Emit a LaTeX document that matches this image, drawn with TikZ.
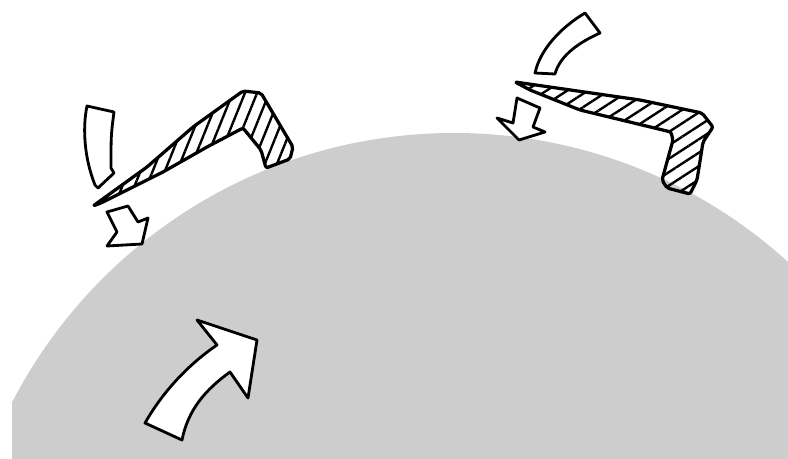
\documentclass[tikz,border=0pt]{standalone}
\usetikzlibrary{patterns.meta}

\definecolor{diskgrey}{HTML}{CDCDCD}

\tikzset{
  blade/.style={draw=black,line width=2.3pt,line join=round,rounded corners=1.5pt},
  hatchA/.style={pattern={Lines[angle=68,distance=8pt,line width=1.7pt]}},
  hatchB/.style={pattern={Lines[angle=33,distance=8pt,line width=1.7pt]}},
  flowarrow/.style={draw=black,fill=white,line width=2pt,line join=round}
}

\begin{document}
\begin{tikzpicture}[x=0.025cm,y=-0.025cm]
                \useasboundingbox (0,0) rectangle (788,459);

                % the big grey body, cut off at the left and bottom
                \begin{scope}
                    \clip (12,0) rectangle (788,459);
                    \fill[diskgrey] (454,630) circle [radius=497];
                \end{scope}

                % left blade
                \fill[hatchA] (93,206) -- (147,167) -- (193,127) -- (243,91) -- (261,93)
                    -- (293,147) -- (290,159) -- (266,168) -- (261,150) -- (243,128) -- (207,147)
                    -- (163,172) -- (101,203) -- cycle;
                \draw[blade] (93,206) -- (147,167) -- (193,127) -- (243,91) -- (261,93)
                    -- (293,147) -- (290,159) -- (266,168) -- (261,150) -- (243,128) -- (207,147)
                    -- (163,172) -- (101,203) -- cycle;

                % right blade
                \fill[hatchB] (515,82) -- (640,100) -- (702,113) -- (713,127) -- (703,142) -- (697,180)
                    -- (690,194) -- (667,188) -- (662,180) -- (673,140) -- (671,132)
                    -- (580,110) -- (530,90) -- cycle;
                \draw[blade] (515,82) -- (640,100) -- (702,113) -- (713,127) -- (703,142) -- (697,180)
                    -- (690,194) -- (667,188) -- (662,180) -- (673,140) -- (671,132)
                    -- (580,110) -- (530,90) -- cycle;

                % bands coming down onto the blades
                \draw[flowarrow] (87,106) -- (114,112) .. controls (111,135) .. (111,168) -- (114,173)
                    -- (98,188) -- (95,185) .. controls (85,160) and (82,130) .. (87,106) -- cycle;
                \draw[flowarrow] (585,13) -- (600,33) .. controls (580,42) and (560,55) .. (555,74)
                    -- (535,73) .. controls (540,50) and (560,28) .. (585,13) -- cycle;

                % small arrows under the blade tips
                \draw[flowarrow] (107,212) -- (128,206) -- (138,222) -- (148,218) -- (142,244)
                    -- (107,246) -- (117,232) -- cycle;
                \draw[flowarrow] (517,98) -- (540,108) -- (533,127) -- (545,132) -- (519,140)
                    -- (497,118) -- (513,123) -- cycle;

                % big arrow on the body
                \draw[flowarrow] (145,423) -- (182,440) .. controls (188,410) and (205,390) .. (230,372)
                    -- (248,398) -- (257,340) -- (197,320) -- (217,345)
                    .. controls (192,362) and (165,388) .. (145,423) -- cycle;
            \end{tikzpicture}
\end{document}
